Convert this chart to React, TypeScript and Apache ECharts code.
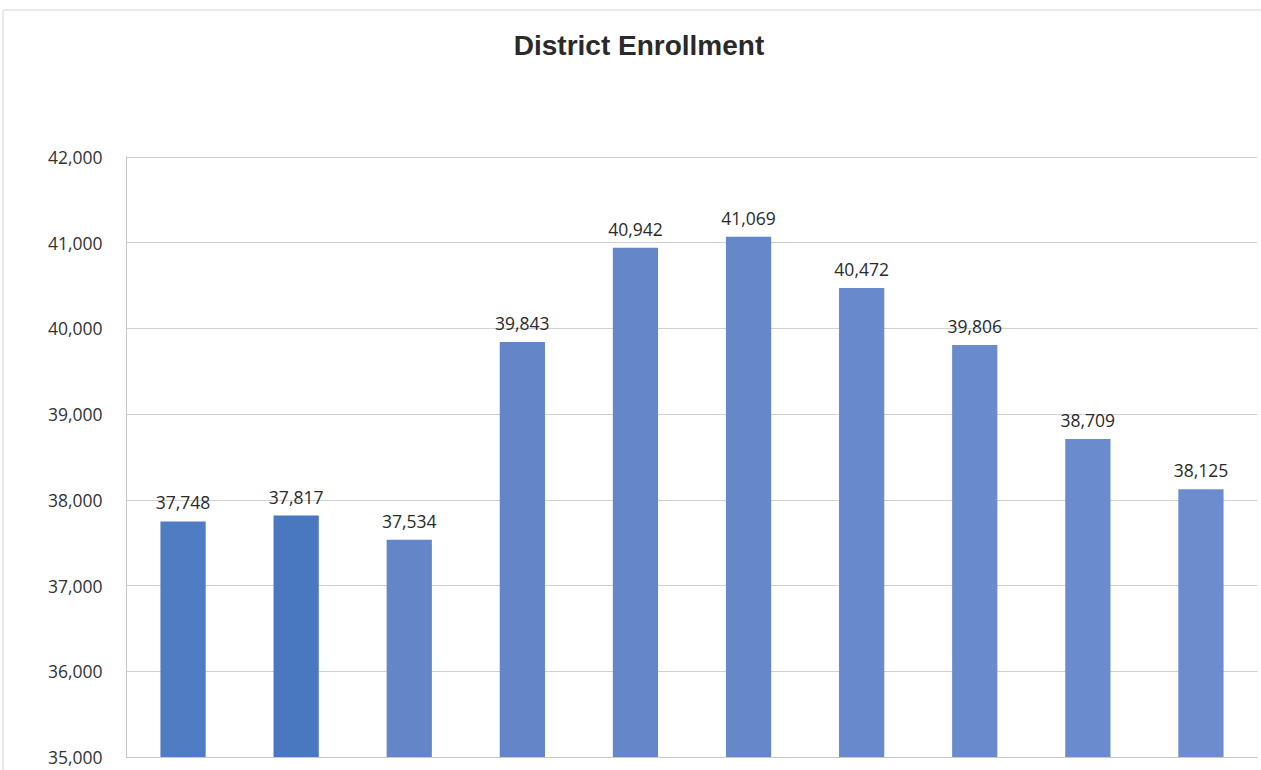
import React, { useEffect, useRef } from "react";
import * as echarts from "echarts";

const categories = ["1", "2", "3", "4", "5", "6", "7", "8", "9", "10"];
const enrollment = [37748, 37817, 37534, 39843, 40942, 41069, 40472, 39806, 38709, 38125];
const barColors = ["#4f7cc2", "#4a78bf", "#6286c8", "#6386c9", "#6587ca", "#6688cb", "#6889cc", "#698acc", "#6a8bcd", "#6c8cce"];
const yMin = 35000;
const yMax = 42000;
const yStep = 1000;
const title = "District Enrollment";

export default function App() {
  const ref = useRef<HTMLDivElement>(null);
  useEffect(() => {
    if (!ref.current) return;
    const chart = echarts.init(ref.current, undefined, { renderer: "svg" });
    const fmt = (v: number) => v.toLocaleString("en-US");
    chart.setOption({
      animation: false,
      backgroundColor: "#ffffff",
      title: {
        text: title,
        left: 634,
        top: 26,
        textAlign: "center",
        textStyle: { fontFamily: "Liberation Sans", fontWeight: "bold", fontSize: 28, color: "#2a2a2a" },
      },
      graphic: [
        {
          type: "rect",
          shape: { x: 3, y: 10, width: 1262, height: 770 },
          style: { fill: "none", stroke: "#d4d4d4", lineWidth: 1 },
          silent: true,
        },
      ],
      grid: { left: 126.5, right: 3.5, top: 157, bottom: 13, containLabel: false },
      xAxis: {
        type: "category",
        data: categories,
        axisLabel: { show: false },
        axisTick: { show: false },
        axisLine: { show: true, lineStyle: { color: "#c8c8c8" } },
      },
      yAxis: {
        type: "value",
        min: yMin,
        max: yMax,
        interval: yStep,
        axisLine: { show: true, lineStyle: { color: "#c8c8c8" } },
        axisTick: { show: false },
        splitLine: { lineStyle: { color: "#d0d0d0", width: 1 } },
        axisLabel: {
          formatter: (v: number) => fmt(v),
          fontFamily: "Open Sans",
          fontSize: 17.5,
          color: "#333333",
          margin: 24,
        },
      },
      series: [
        {
          type: "bar",
          data: enrollment.map((v, i) => ({ value: v, itemStyle: { color: barColors[i] } })),
          barWidth: "40%",
          label: {
            show: true,
            position: "top",
            distance: 10,
            formatter: (p: any) => fmt(p.value),
            fontFamily: "Open Sans",
            fontSize: 17.5,
            color: "#2a2a2a",
          },
        },
      ],
    });
    return () => chart.dispose();
  }, []);
  return (
    <div
      ref={ref}
      style={{ position: "fixed", left: 0, top: 0, width: 1261, height: 770 }}
    />
  );
}
